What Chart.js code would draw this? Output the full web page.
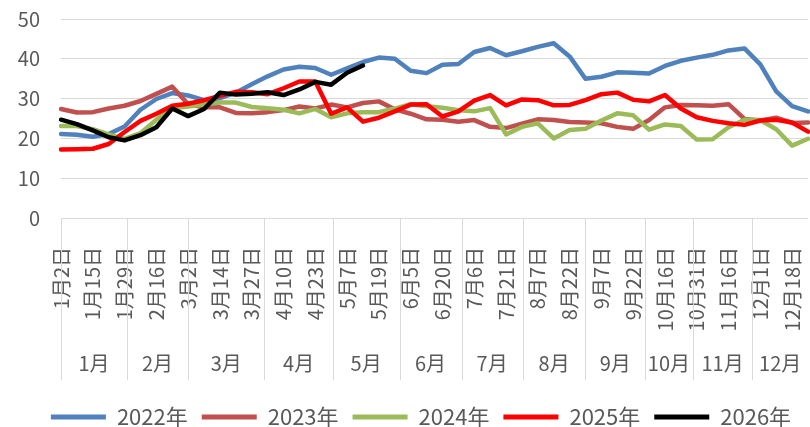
<!DOCTYPE html>
<html>
<head>
<meta charset="utf-8">
<script src="https://cdn.jsdelivr.net/npm/chart.js@4.4.1/dist/chart.umd.min.js"></script>
<style>
  html, body { margin: 0; padding: 0; background: #fff; }
  #wrap { width: 810px; height: 427px; }
</style>
</head>
<body>
<div id="wrap"><canvas id="chart"></canvas></div>
<script>
// weekly categories, only every second one is labelled on the axis
const dateLabels = [
  "1月2日", "", "1月15日", "", "1月29日", "", "2月16日", "", "3月2日", "", "3月14日", "",
  "3月27日", "", "4月10日", "", "4月23日", "", "5月7日", "", "5月19日", "", "6月5日", "",
  "6月20日", "", "7月6日", "", "7月21日", "", "8月7日", "", "8月22日", "", "9月7日", "",
  "9月22日", "", "10月16日", "", "10月31日", "", "11月16日", "", "12月1日", "", "12月18日", "",
];

const months = ["1月", "2月", "3月", "4月", "5月", "6月", "7月", "8月", "9月", "10月", "11月", "12月"];
// where each month group begins, in category units
const monthStarts = [0, 4.15, 8, 12.8, 17.1, 21.3, 25.2, 29.05, 33, 36.75, 39.75, 43.5, 47];

const y2022 = [
  21.1, 20.9, 20.4, 21.1, 23, 27.2, 29.9, 31.4, 30.8, 29.6, 30.1, 31.5,
  33.6, 35.6, 37.3, 38, 37.7, 36, 37.6, 39.2, 40.3, 40, 37, 36.4,
  38.5, 38.7, 41.7, 42.7, 40.9, 41.9, 43, 43.9, 40.6, 35, 35.5, 36.6,
  36.5, 36.3, 38.2, 39.5, 40.3, 41, 42.1, 42.6, 38.6, 31.8, 28.1, 26.8,
];
const y2023 = [
  27.4, 26.5, 26.6, 27.5, 28.2, 29.4, 31.2, 33, 28.6, 27.8, 27.8, 26.4,
  26.3, 26.6, 27.1, 28, 27.5, 28.5, 27.8, 28.9, 29.3, 27.3, 26.2, 24.8,
  24.7, 24.2, 24.6, 22.9, 22.6, 23.7, 24.8, 24.6, 24.1, 24, 23.8, 22.9,
  22.4, 24.6, 27.8, 28.4, 28.3, 28.2, 28.6, 24.9, 24.5, 25.2, 23.9, 24,
];
const y2024 = [
  23.1, 23.1, 22.3, 21, 19.9, 21.3, 24.7, 27.6, 28, 28.5, 29, 29,
  27.9, 27.6, 27.2, 26.3, 27.4, 25.3, 26.3, 26.6, 26.6, 27.5, 28.6, 28.1,
  27.7, 27.1, 26.8, 27.6, 21, 22.9, 23.8, 20, 22.1, 22.4, 24.5, 26.3,
  25.8, 22.2, 23.5, 23.1, 19.7, 19.8, 22.8, 24.7, 24.6, 22.3, 18.2, 19.9,
];
const y2025 = [
  17.2, 17.3, 17.4, 18.6, 21.6, 24.4, 26.2, 28.2, 28.7, 29.6, 30.7, 31.7,
  31.6, 31.1, 32.6, 34.3, 34.3, 26.2, 27.8, 24.2, 25.2, 26.8, 28.5, 28.6,
  25.5, 26.8, 29.5, 30.9, 28.3, 29.8, 29.6, 28.3, 28.4, 29.6, 31.1, 31.5,
  29.7, 29.3, 30.9, 27.5, 25.3, 24.4, 23.8, 23.4, 24.5, 24.7, 24, 21.7,
];
const y2026 = [
  24.7, 23.6, 22, 20.3, 19.5, 20.8, 22.8, 27.5, 25.6, 27.4, 31.5, 31,
  31.2, 31.6, 30.9, 32.3, 34.2, 33.5, 36.5, 38.3,
];

const seriesNames = ["2022年", "2023年", "2024年", "2025年", "2026年"];
const seriesData = [y2022, y2023, y2024, y2025, y2026];
const seriesColors = ["#4F81BD", "#C0504D", "#9BBB59", "#FF0000", "#000000"];

const gray = "#595959";
const fontFamily = '"Noto Sans CJK SC", "Noto Sans", sans-serif';
Chart.defaults.font.family = fontFamily;
Chart.defaults.color = gray;

// second row of the category axis: month groups with dividers
const monthRow = {
  id: "monthRow",
  afterLayout(chart) {
    // the legend sits a little right of centre in the original
    chart.legend.left += 17;
    chart.legend.right += 17;
  },
  afterDraw(chart) {
    const { ctx, chartArea } = chart;
    const x = chart.scales.x;
    const top = chartArea.bottom;
    ctx.save();
    ctx.strokeStyle = "#D9D9D9";
    ctx.lineWidth = 1;
    for (let i = 0; i < monthStarts.length - 1; i++) {
      const px = Math.round(x.getPixelForValue(monthStarts[i])) + 0.5;
      ctx.beginPath();
      ctx.moveTo(px, top);
      ctx.lineTo(px, top + 162);
      ctx.stroke();
    }
    ctx.fillStyle = gray;
    ctx.font = "20px " + fontFamily;
    ctx.textAlign = "center";
    ctx.textBaseline = "middle";
    months.forEach((m, i) => {
      const a = x.getPixelForValue(monthStarts[i]);
      const b = x.getPixelForValue(monthStarts[i + 1]);
      ctx.fillText(m, (a + b) / 2, top + 145);
    });
    ctx.restore();
  },
};

new Chart(document.getElementById("chart"), {
  type: "line",
  data: {
    labels: dateLabels,
    datasets: seriesNames.map((name, i) => ({
      label: name,
      data: seriesData[i],
      borderColor: seriesColors[i],
      backgroundColor: seriesColors[i],
      borderWidth: 4.5,
      pointRadius: 0,
      tension: 0,
      borderJoinStyle: "round",
      borderCapStyle: "round",
      order: seriesNames.length - i,
    })),
  },
  options: {
    responsive: true,
    maintainAspectRatio: false,
    animation: false,
    layout: { padding: { top: 19, right: 2, left: 0, bottom: -11 } },
    plugins: {
      tooltip: { enabled: false },
      legend: {
        position: "bottom",
        labels: {
          boxWidth: 55,
          boxHeight: 5,
          padding: 14,
          font: { size: 22 },
          color: gray,
          sort: (a, b) => a.datasetIndex - b.datasetIndex,
          generateLabels(chart) {
            const items = Chart.defaults.plugins.legend.labels.generateLabels(chart);
            items.forEach((it) => {
              it.lineWidth = 0;
              it.fillStyle = it.strokeStyle;
            });
            return items;
          },
        },
      },
    },
    scales: {
      x: {
        offset: false,
        grid: { display: false },
        border: { display: false },
        ticks: {
          autoSkip: false,
          minRotation: 90,
          maxRotation: 90,
          padding: 21,
          font: { size: 20 },
          color: gray,
        },
        afterFit(scale) {
          scale.height = 174;
          scale.paddingLeft = 0;
          scale.paddingRight = 0;
        },
      },
      y: {
        min: 0,
        max: 50,
        ticks: { stepSize: 10, padding: 21, font: { size: 20 }, color: gray },
        grid: { color: "#D9D9D9", lineWidth: 1, drawTicks: false },
        border: { display: false },
        afterFit(scale) {
          scale.width = 61;
          scale.paddingTop = 0;
          scale.paddingBottom = 0;
        },
      },
    },
  },
  plugins: [monthRow],
});
</script>
</body>
</html>
